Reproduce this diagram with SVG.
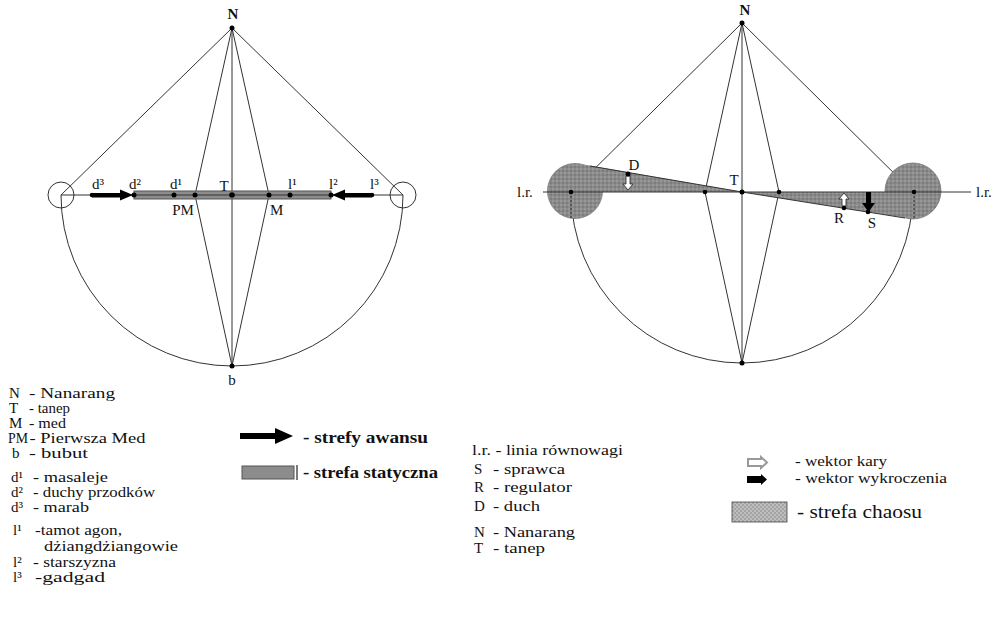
<svg xmlns="http://www.w3.org/2000/svg" width="997" height="643" viewBox="0 0 997 643">
  <style>
    .ln { stroke: #333; stroke-width: 1; fill: none; }
    .dot { fill: #000; }
    .lbl { font-family: "Liberation Serif", "Times New Roman", serif; font-size: 15px; fill: #111; }
    .code { font-family: "Liberation Serif", "Times New Roman", serif; font-size: 15px; fill: #111; }
    .desc { font-family: "Liberation Serif", "Times New Roman", serif; font-size: 15px; fill: #111; }
    .bold { font-family: "Liberation Serif", "Times New Roman", serif; font-size: 16px; font-weight: bold; fill: #111; }
    .big { font-family: "Liberation Serif", "Times New Roman", serif; font-size: 19px; fill: #111; }
    .bar { fill: #8c8c8c; stroke: #555; stroke-width: 1; }
    .chaos { fill: url(#chaos); }
  </style>
  <defs>
    <pattern id="chaos" width="4" height="4" patternUnits="userSpaceOnUse">
      <rect width="4" height="4" fill="#8a8a8a"/>
      <circle cx="1" cy="1" r="0.7" fill="#b0b0b0"/>
      <circle cx="3" cy="3" r="0.7" fill="#666"/>
    </pattern>
    <pattern id="chaos-key" width="4" height="4" patternUnits="userSpaceOnUse">
      <rect width="4" height="4" fill="#a4a4a4"/>
      <circle cx="1" cy="1" r="0.8" fill="#e0e0e0"/>
      <circle cx="3" cy="3" r="0.8" fill="#e0e0e0"/>
    </pattern>
  </defs>
  <rect width="997" height="643" fill="#fff"/>

  <!-- ===== Left diagram ===== -->
  <g id="left-connectors">
    <line class="ln" x1="232" y1="28" x2="61" y2="195"/>
    <line class="ln" x1="232" y1="28" x2="403" y2="195"/>
    <line class="ln" x1="232" y1="28" x2="232" y2="366"/>
    <polyline class="ln" points="232,28 195,195 232,366"/>
    <polyline class="ln" points="232,28 269,195 232,366"/>
    <path class="ln" d="M61,195 A171,171 0 0 0 403,195"/>
    <circle class="ln" cx="61" cy="195" r="13"/>
    <circle class="ln" cx="403" cy="195" r="13"/>
  </g>
  <g id="static-zone">
    <rect class="bar" x="134" y="191" width="197" height="8"/>
  </g>
  <g id="left-axis">
    <line class="ln" x1="61" y1="195" x2="403" y2="195"/>
  </g>
  <g id="advance-arrows">
    <rect x="92" y="193" width="30" height="4.5" fill="#000"/>
    <polygon points="120,189.5 133,195 120,200.5" fill="#000"/>
    <rect x="344" y="193" width="28" height="4.5" fill="#000"/>
    <polygon points="345,189.5 332,195 345,200.5" fill="#000"/>
  </g>
  <g id="node-N-left"><circle class="dot" cx="232" cy="28" r="2.5"/><text class="lbl" x="233" y="19" text-anchor="middle" font-weight="bold">N</text></g>
  <g id="node-b"><circle class="dot" cx="232" cy="366" r="2.5"/><text class="lbl" x="232" y="385" text-anchor="middle">b</text></g>
  <g id="node-T-left"><circle class="dot" cx="232" cy="195" r="2.8"/><text class="lbl" x="224" y="191" text-anchor="middle">T</text></g>
  <g id="node-PM"><circle class="dot" cx="195" cy="195" r="2.5"/><text class="lbl" x="183" y="215" text-anchor="middle">PM</text></g>
  <g id="node-M"><circle class="dot" cx="269" cy="195" r="2.5"/><text class="lbl" x="270" y="215">M</text></g>
  <g id="node-d3"><circle class="dot" cx="92" cy="195" r="2.3"/><text class="lbl" x="92" y="189">d³</text></g>
  <g id="node-d2"><circle class="dot" cx="134" cy="195" r="2.5"/><text class="lbl" x="129" y="189">d²</text></g>
  <g id="node-d1"><circle class="dot" cx="174" cy="195" r="2.5"/><text class="lbl" x="170" y="189">d¹</text></g>
  <g id="node-l1"><circle class="dot" cx="290" cy="195" r="2.5"/><text class="lbl" x="288" y="189">l¹</text></g>
  <g id="node-l2"><circle class="dot" cx="331" cy="195" r="2.5"/><text class="lbl" x="329" y="189">l²</text></g>
  <g id="node-l3"><circle class="dot" cx="372" cy="195" r="2.3"/><text class="lbl" x="370" y="189">l³</text></g>

  <!-- ===== Right diagram ===== -->
  <g id="right-connectors">
    <line class="ln" x1="742" y1="23" x2="571" y2="192"/>
    <line class="ln" x1="742" y1="23" x2="913" y2="192"/>
    <line class="ln" x1="742" y1="23" x2="742" y2="363"/>
    <polyline class="ln" points="742,23 705,192 742,363"/>
    <polyline class="ln" points="742,23 779,192 742,363"/>
    <path class="ln" d="M571,192 A171,171 0 0 0 913,192"/>
  </g>
  <g id="chaos-zone">
    <circle class="chaos" cx="575" cy="191" r="27.5" stroke="#777" stroke-width="0.8"/>
    <circle class="chaos" cx="913" cy="191" r="28" stroke="#777" stroke-width="0.8"/>
    <polygon class="chaos" points="578,163.5 742,192 574,192"/>
    <polygon class="chaos" points="742,192 913,219 913,192"/>
    <line class="ln" x1="742" y1="192" x2="590" y2="166"/>
    <line class="ln" x1="742" y1="192" x2="905" y2="218"/>
  </g>
  <g id="balance-line">
    <line class="ln" x1="543" y1="192" x2="971" y2="192"/>
    <line x1="571" y1="192" x2="571" y2="219" stroke="#222" stroke-width="1" stroke-dasharray="2,2"/>
    <line x1="914" y1="192" x2="914" y2="219" stroke="#222" stroke-width="1" stroke-dasharray="2,2"/>
    <text class="lbl" x="517" y="197">l.r.</text>
    <text class="lbl" x="976" y="197">l.r.</text>
  </g>
  <g id="vectors">
    <!-- punishment vector at D (down), white -->
    <path d="M626,176 H630 V184 H633 L628,190 L623,184 H626 Z" fill="#fff" stroke="#222" stroke-width="0.8"/>
    <!-- punishment vector at R (up), white -->
    <path d="M842,206 H846 V199 H849 L844,193 L839,199 H842 Z" fill="#fff" stroke="#222" stroke-width="0.8"/>
    <!-- transgression vector at S (down), black -->
    <path d="M866,192 H871 V203 H875 L868.5,212 L862,203 H866 Z" fill="#000"/>
  </g>
  <g id="node-N-right"><circle class="dot" cx="742" cy="23" r="2.5"/><text class="lbl" x="745" y="15" text-anchor="middle" font-weight="bold">N</text></g>
  <g id="node-bottom-right"><circle class="dot" cx="742" cy="363" r="2.5"/></g>
  <g id="node-T-right"><circle class="dot" cx="742" cy="192" r="2.5"/><text class="lbl" x="734" y="185" text-anchor="middle">T</text></g>
  <g id="node-lens-left"><circle class="dot" cx="705" cy="192" r="2.3"/></g>
  <g id="node-lens-right"><circle class="dot" cx="779" cy="192" r="2.3"/></g>
  <g id="node-chaos-left"><circle class="dot" cx="571" cy="192" r="2.3"/></g>
  <g id="node-chaos-right"><circle class="dot" cx="914" cy="192" r="2.3"/></g>
  <g id="node-D"><circle class="dot" cx="628" cy="174" r="2.5"/><text class="lbl" x="634" y="170" text-anchor="middle">D</text></g>
  <g id="node-R"><circle class="dot" cx="844" cy="208" r="2.3"/><text class="lbl" x="839" y="223" text-anchor="middle">R</text></g>
  <g id="node-S"><circle class="dot" cx="868" cy="212" r="2.3"/><text class="lbl" x="872" y="228" text-anchor="middle">S</text></g>

  <!-- ===== Legend: left diagram symbols ===== -->
  <g id="legend-left">
    <text class="code" x="9" y="398">N</text><text class="desc" x="29" y="398" textLength="86" lengthAdjust="spacingAndGlyphs">- Nanarang</text>
    <text class="code" x="9" y="413">T</text><text class="desc" x="29" y="413" textLength="41" lengthAdjust="spacingAndGlyphs">- tanep</text>
    <text class="code" x="9" y="428">M</text><text class="desc" x="29" y="428" textLength="37" lengthAdjust="spacingAndGlyphs">- med</text>
    <text class="code" x="8" y="443" font-size="14" textLength="20" lengthAdjust="spacingAndGlyphs">PM</text><text class="desc" x="29.5" y="443" textLength="116" lengthAdjust="spacingAndGlyphs">- Pierwsza Med</text>
    <text class="code" x="12" y="458">b</text><text class="desc" x="29" y="458" textLength="59" lengthAdjust="spacingAndGlyphs">- bubut</text>
    <text class="code" x="11" y="482">d¹</text><text class="desc" x="33" y="482" textLength="75" lengthAdjust="spacingAndGlyphs">- masaleje</text>
    <text class="code" x="11" y="497">d²</text><text class="desc" x="33" y="497" textLength="122" lengthAdjust="spacingAndGlyphs">- duchy przodków</text>
    <text class="code" x="11" y="512">d³</text><text class="desc" x="33" y="512" textLength="56" lengthAdjust="spacingAndGlyphs">- marab</text>
    <text class="code" x="13" y="535">l¹</text><text class="desc" x="35" y="535" textLength="87" lengthAdjust="spacingAndGlyphs">-tamot agon,</text>
    <text class="desc" x="44" y="551" textLength="134" lengthAdjust="spacingAndGlyphs">dżiangdżiangowie</text>
    <text class="code" x="13" y="567">l²</text><text class="desc" x="33" y="567" textLength="83" lengthAdjust="spacingAndGlyphs">- starszyzna</text>
    <text class="code" x="13" y="582">l³</text><text class="desc" x="35" y="582" textLength="70" lengthAdjust="spacingAndGlyphs">-gadgad</text>
  </g>

  <g id="legend-zones">
    <rect x="240" y="433" width="37" height="6" fill="#000"/>
    <polygon points="275,428 293,436 275,444" fill="#000"/>
    <text class="bold" x="303" y="443" textLength="125" lengthAdjust="spacingAndGlyphs">- strefy awansu</text>
    <rect class="bar" x="242" y="466" width="52" height="13"/>
    <line x1="297" y1="465" x2="297" y2="480" stroke="#222" stroke-width="1.2"/>
    <text class="bold" x="303" y="478" textLength="135" lengthAdjust="spacingAndGlyphs">- strefa statyczna</text>
  </g>

  <!-- ===== Legend: right diagram symbols ===== -->
  <g id="legend-right">
    <text class="desc" x="472" y="455" textLength="151" lengthAdjust="spacingAndGlyphs">l.r. - linia równowagi</text>
    <text class="code" x="474" y="474">S</text><text class="desc" x="493" y="474" textLength="72" lengthAdjust="spacingAndGlyphs">- sprawca</text>
    <text class="code" x="474" y="492">R</text><text class="desc" x="493" y="492" textLength="79" lengthAdjust="spacingAndGlyphs">- regulator</text>
    <text class="code" x="474" y="511">D</text><text class="desc" x="493" y="511" textLength="47" lengthAdjust="spacingAndGlyphs">- duch</text>
    <text class="code" x="474" y="537">N</text><text class="desc" x="493" y="537" textLength="82" lengthAdjust="spacingAndGlyphs">- Nanarang</text>
    <text class="code" x="474" y="553">T</text><text class="desc" x="493" y="553" textLength="52" lengthAdjust="spacingAndGlyphs">- tanep</text>
  </g>

  <g id="legend-vectors">
    <path d="M748,459 H761 V457 L767,462.5 L761,468 V466 H748 Z" fill="#fff" stroke="#999" stroke-width="2"/>
    <text class="desc" x="795" y="466" textLength="92" lengthAdjust="spacingAndGlyphs">- wektor kary</text>
    <path d="M747,476 H761 V474 L767,479.5 L761,485 V483 H747 Z" fill="#000"/>
    <text class="desc" x="795" y="483" textLength="152" lengthAdjust="spacingAndGlyphs">- wektor wykroczenia</text>
    <rect x="732" y="502" width="55" height="20" fill="url(#chaos-key)" stroke="#444" stroke-width="0.8"/>
    <text class="big" x="797" y="518" textLength="125" lengthAdjust="spacingAndGlyphs">- strefa chaosu</text>
  </g>
</svg>
